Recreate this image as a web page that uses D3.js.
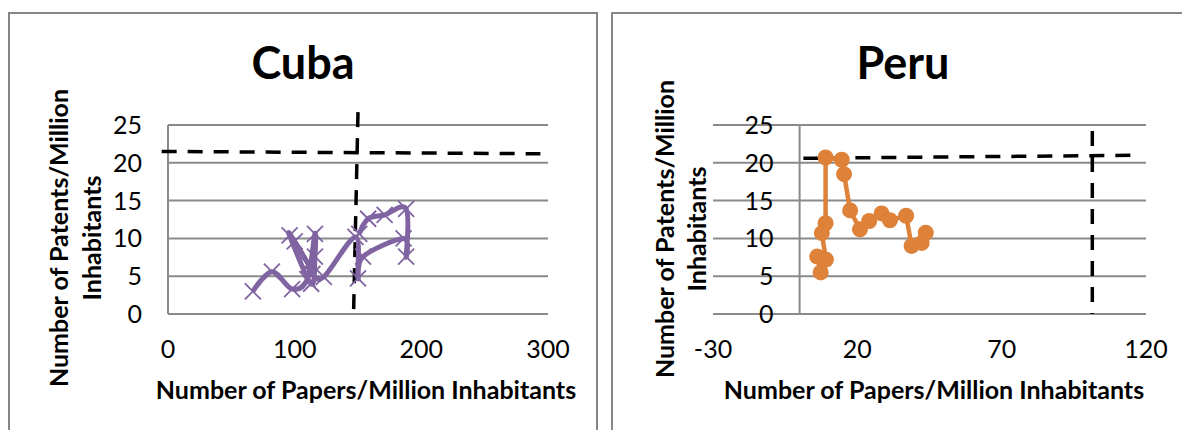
<!DOCTYPE html>
<html><head><meta charset="utf-8">
<script src="https://cdn.jsdelivr.net/npm/d3@7"></script>
<style>
html,body{margin:0;padding:0;background:#fff;}
svg{display:block;font-family:Lato, "Open Sans", sans-serif;}
</style></head>
<body><svg id="c" width="1182" height="430"></svg>
<script>
// ---- Data ----
const cubaX = [67, 82, 98, 110, 116, 116, 113, 96, 100, 111, 114, 123, 148, 150, 154, 186, 188, 188, 171, 158, 151];
const cubaY = [3.0, 5.6, 3.3, 4.6, 10.6, 7.6, 4.0, 10.4, 9.6, 6.5, 5.3, 4.9, 10.2, 4.7, 7.6, 10.0, 7.6, 13.9, 13.1, 12.6, 10.6];
const peruX = [7.3, 6.1, 9.1, 7.7, 9.0, 9.0, 14.6, 15.4, 17.5, 20.9, 24.1, 28.4, 31.3, 36.9, 38.8, 42.3, 43.7];
const peruY = [5.5, 7.6, 7.2, 10.7, 12.0, 20.7, 20.4, 18.5, 13.7, 11.2, 12.3, 13.3, 12.4, 13.0, 9.0, 9.4, 10.75];
// reference (dashed) lines: [x1, y1, x2, y2]
const cubaRefH = [-5, 21.5, 294, 21.2];
const cubaRefV = [150, 26.7, 146.5, 0];
const peruRefH = [1.3, 20.6, 117.5, 21.0];
const peruRefV = [101.4, 24.2, 101.4, 0];
const yTicks = [0, 5, 10, 15, 20, 25];
const cubaXTicks = [0, 100, 200, 300];
const peruXTicks = [-30, 20, 70, 120];
const titles = ["Cuba", "Peru"];
const xTitle = "Number of Papers/Million Inhabitants";
const yTitle = ["Number of Patents/Million", "Inhabitants"];

const svg = d3.select("#c");
const GRID = "#8a8a8a";

function panel(cfg) {
  const g = svg.append("g");
  g.append("rect").attr("x", cfg.box[0]).attr("y", cfg.box[1]).attr("width", cfg.box[2]).attr("height", cfg.box[3])
    .attr("fill", "none").attr("stroke", "#868686").attr("stroke-width", 2);
  const x = d3.scaleLinear().domain(cfg.xDomain).range(cfg.xRange);
  const y = d3.scaleLinear().domain([0, 25]).range([314, 125]);
  g.append("g").selectAll("line").data(yTicks).join("line")
    .attr("x1", cfg.xRange[0]).attr("x2", cfg.xRange[1])
    .attr("y1", d => y(d)).attr("y2", d => y(d))
    .attr("stroke", GRID).attr("stroke-width", 2);
  g.append("line").attr("x1", x(0)).attr("x2", x(0)).attr("y1", y(0)).attr("y2", y(25))
    .attr("stroke", GRID).attr("stroke-width", 2);
  g.append("g").selectAll("text").data(yTicks).join("text")
    .attr("x", x(0) - 26).attr("y", d => y(d)).attr("dy", "0.36em")
    .attr("text-anchor", "end").attr("font-size", 25).attr("fill", "#000").text(d => d);
  g.append("g").selectAll("text").data(cfg.xTicks).join("text")
    .attr("x", d => x(d)).attr("y", 358)
    .attr("text-anchor", "middle").attr("font-size", 25).attr("fill", "#000").text(d => d);
  g.append("text").attr("x", cfg.titleX).attr("y", 79).attr("text-anchor", "middle")
    .attr("font-size", 45).attr("font-weight", "bold").text(cfg.title);
  g.append("text").attr("x", cfg.xTitleX).attr("y", 399).attr("text-anchor", "middle")
    .attr("font-size", 25).attr("font-weight", "bold").text(xTitle);
  yTitle.forEach((t, i) => {
    g.append("text").attr("transform", `translate(${cfg.yTitleX[i]},${cfg.yTitleY}) rotate(-90)`)
      .attr("text-anchor", "middle").attr("font-size", 25).attr("font-weight", "bold").text(t);
  });
  [cfg.refH, cfg.refV].forEach(r => {
    g.append("line").attr("x1", x(r[0])).attr("y1", y(r[1])).attr("x2", x(r[2])).attr("y2", y(r[3]))
      .attr("stroke", "#000").attr("stroke-width", 3.5).attr("stroke-dasharray", "15,11");
  });
  return { g, x, y };
}

// Cuba
const A = panel({ box: [9, 13, 588, 440], xDomain: [0, 300], xRange: [168, 548], xTicks: cubaXTicks,
  title: titles[0], titleX: 303, xTitleX: 366, yTitleX: [68, 101], yTitleY: 238, refH: cubaRefH, refV: cubaRefV });
const cuba = cubaX.map((d, i) => [d, cubaY[i]]);
const purple = "#8064A2";
A.g.append("path").datum(cuba)
  .attr("d", d3.line().x(d => A.x(d[0])).y(d => A.y(d[1])).curve(d3.curveCardinal.tension(0)))
  .attr("fill", "none").attr("stroke", purple).attr("stroke-width", 5).attr("stroke-linejoin", "round");
const s = 8;
A.g.append("g").selectAll("path").data(cuba).join("path")
  .attr("d", d => { const cx = A.x(d[0]), cy = A.y(d[1]);
    return `M${cx - s},${cy - s}L${cx + s},${cy + s}M${cx - s},${cy + s}L${cx + s},${cy - s}`; })
  .attr("stroke", purple).attr("stroke-width", 1.8).attr("fill", "none");

// Peru
const B = panel({ box: [612, 13, 640, 440], xDomain: [-30, 120], xRange: [713, 1146], xTicks: peruXTicks,
  title: titles[1], titleX: 903, xTitleX: 934, yTitleX: [674, 706], yTitleY: 229, refH: peruRefH, refV: peruRefV });
const peru = peruX.map((d, i) => [d, peruY[i]]);
const orange = "#DE8139";
B.g.append("path").datum(peru)
  .attr("d", d3.line().x(d => B.x(d[0])).y(d => B.y(d[1])))
  .attr("fill", "none").attr("stroke", orange).attr("stroke-width", 4.5).attr("stroke-linejoin", "round");
B.g.append("g").selectAll("circle").data(peru).join("circle")
  .attr("cx", d => B.x(d[0])).attr("cy", d => B.y(d[1])).attr("r", 8).attr("fill", orange);
</script></body></html>
